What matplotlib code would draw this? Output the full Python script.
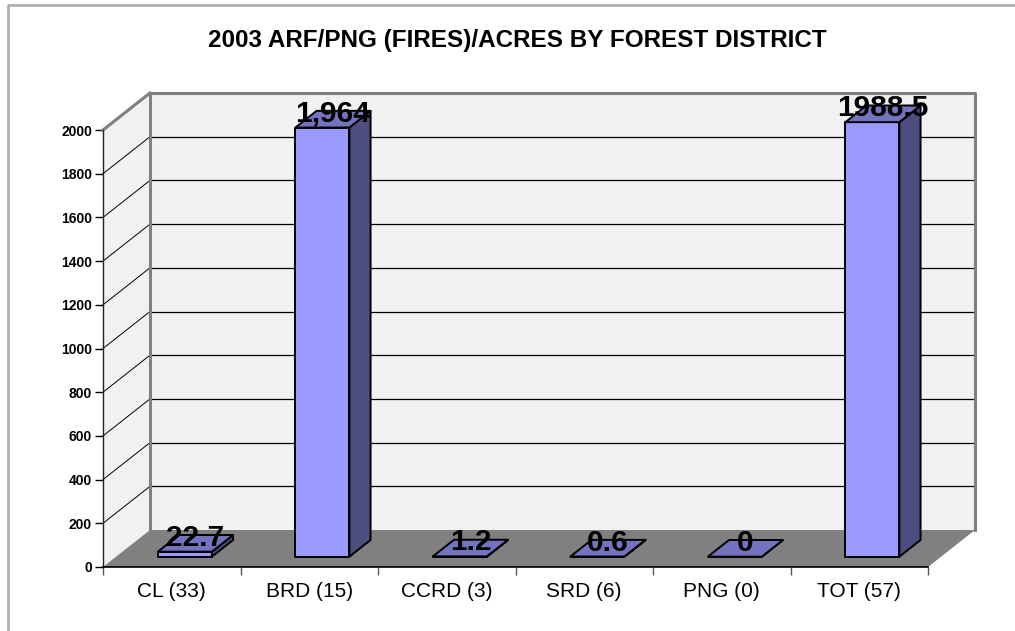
import numpy as np
import matplotlib.pyplot as plt
from matplotlib.patches import Polygon, Rectangle
from matplotlib.lines import Line2D

categories = ['CL (33)', 'BRD (15)', 'CCRD (3)', 'SRD (6)', 'PNG (0)', 'TOT (57)']
acres = [22.7, 1964, 1.2, 0.6, 0, 1988.5]
value_labels = ['22.7', '1,964', '1.2', '0.6', '0', '1988.5']
y_ticks = list(range(0, 2001, 200))

FRONT = '#9999ff'
TOP = '#7373bf'
SIDE = '#4d4d80'
WALL = '#f1f1f1'
FLOOR = '#808080'

W, H = 1015, 631
fig = plt.figure(figsize=(W / 100, H / 100), dpi=100)
plt.rcParams['font.family'] = ['Liberation Sans', 'DejaVu Sans']

# front plane of the chart in pixels
px_l, px_r, px_t, px_b = 103, 928, 130, 567
ax = fig.add_axes([px_l / W, (H - px_b) / H, (px_r - px_l) / W, (px_b - px_t) / H])
ax.set_xlim(0, len(categories))
ax.set_ylim(0, 2000)
ax.patch.set_visible(False)

# depth vector in data units (47 px right, 37 px up)
DX = 47 / ((px_r - px_l) / len(categories))
DY = 37 / ((px_b - px_t) / 2000)
n = len(categories)
top = 2000

# walls
left_wall = Polygon([(0, 0), (0, top), (DX, top + DY), (DX, DY)], closed=True,
                    facecolor=WALL, edgecolor='none', zorder=0, clip_on=False)
back_wall = Polygon([(DX, DY), (DX, top + DY), (n + DX, top + DY), (n + DX, DY)], closed=True,
                    facecolor=WALL, edgecolor='none', zorder=0, clip_on=False)
ax.add_patch(left_wall)
ax.add_patch(back_wall)

# gridlines
for t in y_ticks[1:]:
    ax.add_line(Line2D([DX, n + DX], [t + DY, t + DY], color='black', lw=0.9, zorder=1, clip_on=False))
    ax.add_line(Line2D([0, DX], [t, t + DY], color='black', lw=0.7, zorder=1, clip_on=False))

# wall borders
ax.add_line(Line2D([DX, DX, n + DX, n + DX], [DY, top + DY, top + DY, DY],
                   color='#808080', lw=2.2, zorder=2, clip_on=False))
ax.add_line(Line2D([0, DX], [top, top + DY], color='#808080', lw=2.2, zorder=2, clip_on=False))

# floor
floor = Polygon([(0, 0), (n, 0), (n + DX, DY), (DX, DY)], closed=True,
                facecolor=FLOOR, edgecolor='none', zorder=2, clip_on=False)
ax.add_patch(floor)

# bars
bw = 54 / ((px_r - px_l) / n)
f0, d = 0.28, 0.45
for i, v in enumerate(acres):
    x0 = i + 0.5 - bw / 2 + f0 * DX
    y0 = f0 * DY
    ex, ey = d * DX, d * DY
    kw = dict(edgecolor='black', lw=1.4, joinstyle='round', zorder=3 + i, clip_on=False)
    ax.add_patch(Rectangle((x0, y0), bw, v, facecolor=FRONT, **kw))
    ax.add_patch(Polygon([(x0 + bw, y0), (x0 + bw + ex, y0 + ey), (x0 + bw + ex, y0 + ey + v), (x0 + bw, y0 + v)],
                         closed=True, facecolor=SIDE, **kw))
    ax.add_patch(Polygon([(x0, y0 + v), (x0 + bw, y0 + v), (x0 + bw + ex, y0 + v + ey), (x0 + ex, y0 + v + ey)],
                         closed=True, facecolor=TOP, **kw))
    ax.annotate(value_labels[i], (x0 + bw / 2 + ex / 2, y0 + v + ey / 2), xytext=(0, 4),
                textcoords='offset points', ha='center', va='center', fontsize=21.5,
                fontweight='bold', color='black', zorder=20, annotation_clip=False)

# axes
for s in ['top', 'right']:
    ax.spines[s].set_visible(False)
ax.spines['left'].set_color('#222222')
ax.spines['left'].set_linewidth(1.0)
ax.spines['bottom'].set_color('black')
ax.spines['bottom'].set_linewidth(1.2)
ax.spines['left'].set_zorder(2.5)
ax.spines['bottom'].set_zorder(2.5)

ax.set_yticks(y_ticks)
ax.set_yticklabels([str(t) for t in y_ticks], fontsize=10, fontweight='bold')
ax.tick_params(axis='y', length=6, width=1, pad=2)

ax.set_xticks(np.arange(n + 1))
ax.set_xticklabels([])
ax.set_xticks(np.arange(n) + 0.5, minor=True)
ax.set_xticklabels(categories, minor=True, fontsize=15)
ax.tick_params(axis='x', which='major', length=6, width=1, color='#555555')
ax.tick_params(axis='x', which='minor', length=0, pad=11)

fig.text(517 / W, 1 - 40 / H, '2003 ARF/PNG (FIRES)/ACRES BY FOREST DISTRICT',
         ha='center', va='center', fontsize=17.5, fontweight='bold')

# chart area border (top and left)
fig.add_artist(Line2D([8 / W, 8 / W, 1], [0, 1 - 5 / H, 1 - 5 / H], transform=fig.transFigure,
                      color='#b0b0b0', lw=2))

fig.savefig('out.png', dpi=100, facecolor='white')
